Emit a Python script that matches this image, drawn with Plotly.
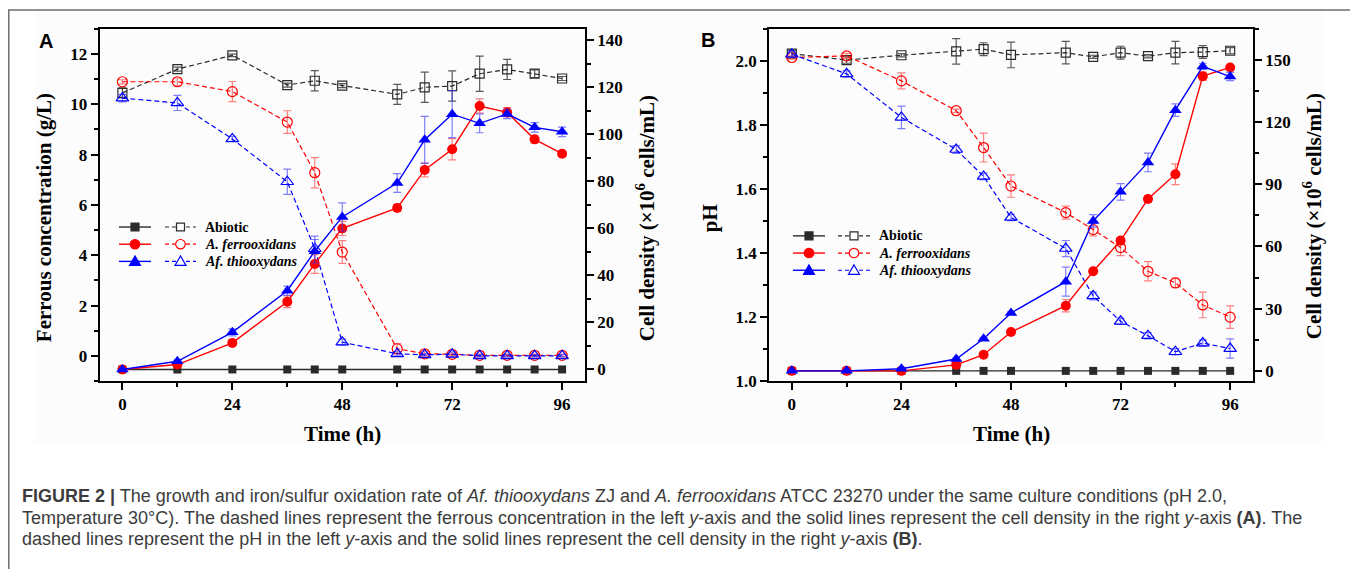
import plotly.graph_objects as go

# ---------------- data ----------------
time_h = [0, 12, 24, 36, 42, 48, 60, 66, 72, 78, 84, 90, 96]

# Panel A: ferrous concentration (g/L, left axis)
fe_abiotic = [10.45, 11.39, 11.94, 10.76, 10.93, 10.74, 10.39, 10.67, 10.72, 11.21, 11.38, 11.21, 11.02]
fe_abiotic_err = [0.2, 0.08, 0.05, 0.08, 0.4, 0.08, 0.4, 0.6, 0.6, 0.7, 0.4, 0.15, 0.08]
fe_aferro = [10.89, 10.89, 10.50, 9.29, 7.28, 4.13, 0.29, 0.09, 0.07, 0.03, 0.03, 0.03, 0.03]
fe_aferro_err = [0.08, 0.15, 0.4, 0.45, 0.6, 0.45, 0.2, 0.08, 0.05, 0.05, 0.05, 0.05, 0.05]
fe_afthio = [10.24, 10.05, 8.62, 6.92, 4.26, 0.55, 0.09, 0.05, 0.07, 0.01, 0.01, 0.01, 0.01]
fe_afthio_err = [0.15, 0.3, 0.1, 0.5, 0.5, 0.12, 0.08, 0.05, 0.1, 0.05, 0.05, 0.05, 0.05]

# Panel A: cell density (x10^6 cells/mL, right axis)
cellA_abiotic = [0, 0, 0, 0, 0, 0, 0, 0, 0, 0, 0, 0, 0]
cellA_aferro = [0, 2.1, 11.3, 28.8, 44.9, 60.0, 68.7, 84.9, 93.7, 112.1, 109.4, 97.9, 91.8]
cellA_aferro_err = [0, 0.5, 1.0, 2.5, 4, 3, 1.5, 3, 4.5, 3, 2, 1.5, 1]
cellA_afthio = [0, 3.5, 15.8, 33.5, 50.3, 64.9, 79.3, 97.7, 108.6, 104.7, 108.7, 103.0, 101.1]
cellA_afthio_err = [0, 0.5, 1.5, 2, 5, 6, 4, 10, 10, 4, 2, 2, 2]

# Panel B: pH (left axis)
ph_abiotic = [2.022, 2.002, 2.017, 2.029, 2.036, 2.018, 2.025, 2.012, 2.025, 2.014, 2.025, 2.027, 2.031]
ph_abiotic_err = [0.01, 0.01, 0.005, 0.04, 0.02, 0.04, 0.035, 0.005, 0.02, 0.005, 0.035, 0.02, 0.01]
ph_aferro = [2.010, 2.015, 1.937, 1.844, 1.729, 1.609, 1.526, 1.473, 1.417, 1.343, 1.307, 1.238, 1.200]
ph_aferro_err = [0.005, 0.008, 0.025, 0.005, 0.045, 0.035, 0.02, 0.02, 0.025, 0.03, 0.015, 0.04, 0.035]
ph_afthio = [2.020, 1.959, 1.823, 1.723, 1.639, 1.511, 1.414, 1.266, 1.187, 1.142, 1.092, 1.119, 1.102]
ph_afthio_err = [0.01, 0.01, 0.035, 0.012, 0.01, 0.01, 0.025, 0.012, 0.01, 0.01, 0.01, 0.01, 0.03]

# Panel B: cell density (right axis)
cellB_abiotic = [0, 0, 0, 0, 0, 0, 0, 0, 0, 0, 0, 0, 0]
cellB_aferro = [0, 0, 0, 2.9, 7.8, 18.7, 31.4, 48.0, 62.8, 82.9, 94.8, 142.1, 146.3]
cellB_aferro_err = [0, 0, 0, 0.5, 0.5, 0.5, 3, 1, 1.5, 1.5, 5, 2, 0.5]
cellB_afthio = [0, 0, 1.0, 5.7, 15.5, 27.9, 43.0, 72.3, 86.3, 100.5, 125.7, 146.8, 141.9]
cellB_afthio_err = [0, 0, 0, 0.5, 0.5, 0.5, 7, 3, 4, 4.5, 3, 1.5, 2]

series_names = ["Abiotic", "<i>A. ferrooxidans</i>", "<i>Af. thiooxydans</i>"]
x_ticks = [0, 24, 48, 72, 96]

# ---------------- geometry (page has an 8px body margin) ----------------
OFF = 8
W, H = 1358 - OFF, 569 - OFF
def px(x):
    return (x - OFF) / W
def py(y):
    return 1 - (y - OFF) / H

SERIF = "Liberation Serif"
SANS = "Liberation Sans"
RED = "#ff0000"
BLUE = "#0000ff"
GREY = "#2a2a2a"
DASH = "5px,3px"

styles = [
    dict(color=GREY, err="rgba(60,60,60,0.85)", solid="square", open="square-open", s_size=8, o_size=9),
    dict(color=RED, err="rgba(255,60,60,0.65)", solid="circle", open="circle-open", s_size=10, o_size=10),
    dict(color=BLUE, err="rgba(60,60,255,0.65)", solid="triangle-up", open="triangle-up-open", s_size=11, o_size=11),
]

fig = go.Figure()

def add_panel(xa, yl, yr, left_vals, left_errs, right_vals, right_errs):
    for st, vals, errs in zip(styles, left_vals, left_errs):
        fig.add_trace(go.Scatter(
            x=time_h, y=vals, xaxis=xa, yaxis=yl, mode="lines+markers",
            line=dict(color=st["color"], width=1.2, dash=DASH),
            marker=dict(symbol=st["open"], size=st["o_size"], color=st["color"],
                        line=dict(width=1.2, color=st["color"])),
            error_y=dict(type="data", array=errs, color=st["err"], thickness=1.2, width=4),
            showlegend=False, cliponaxis=False))
    for st, vals, errs in zip(styles, right_vals, right_errs):
        ey = dict(type="data", array=errs, color=st["err"], thickness=1.2, width=4) if errs else None
        fig.add_trace(go.Scatter(
            x=time_h, y=vals, xaxis=xa, yaxis=yr, mode="lines+markers",
            line=dict(color=st["color"], width=1.4),
            marker=dict(symbol=st["solid"], size=st["s_size"], color=st["color"]),
            error_y=ey, showlegend=False, cliponaxis=False))

add_panel("x", "y", "y2",
          [fe_abiotic, fe_aferro, fe_afthio], [fe_abiotic_err, fe_aferro_err, fe_afthio_err],
          [cellA_abiotic, cellA_aferro, cellA_afthio], [None, cellA_aferro_err, cellA_afthio_err])
add_panel("x2", "y3", "y4",
          [ph_abiotic, ph_aferro, ph_afthio], [ph_abiotic_err, ph_aferro_err, ph_afthio_err],
          [cellB_abiotic, cellB_aferro, cellB_afthio], [None, cellB_aferro_err, cellB_afthio_err])

tickfont = dict(family=SERIF, size=17, color="black", weight="bold")
base = dict(showline=True, linecolor="black", linewidth=1.5, ticks="outside", ticklen=7,
            tickwidth=1.5, tickcolor="black", showgrid=False, zeroline=False, tickfont=tickfont)
def minor(d):
    return dict(dtick=d, ticks="outside", ticklen=4, tickwidth=1.5, tickcolor="black", showgrid=False)

ydom = [py(388), py(29)]
fig.update_layout(
    width=W, height=H, margin=dict(l=0, r=0, t=0, b=0),
    paper_bgcolor="white", plot_bgcolor="rgba(0,0,0,0)",
    xaxis=dict(base, domain=[px(99.5), px(585)], range=[-5, 101], anchor="y",
               tickvals=x_ticks, minor=minor(12), mirror=True),
    yaxis=dict(base, domain=ydom, range=[-1, 13], dtick=2, anchor="x", minor=minor(1)),
    yaxis2=dict(base, overlaying="y", side="right", anchor="x", range=[-5, 145],
                dtick=20, minor=minor(10)),
    xaxis2=dict(base, domain=[px(769), px(1253)], range=[-5, 101], anchor="y3",
                tickvals=x_ticks, minor=minor(12), mirror=True),
    yaxis3=dict(base, domain=ydom, range=[1.0, 2.1], dtick=0.2, tickformat=".1f",
                anchor="x2", minor=minor(0.1)),
    yaxis4=dict(base, overlaying="y3", side="right", anchor="x2", range=[-5, 165],
                dtick=30, minor=minor(15)),
)

annotations = []
shapes = []

# faint background of the chart image, and outer border of the figure panel
shapes.append(dict(type="rect", xref="paper", yref="paper", x0=px(35), x1=px(1323),
                   y0=py(452), y1=py(11), fillcolor="#fcfcfc", line=dict(width=0), layer="below"))
shapes.append(dict(type="rect", xref="paper", yref="paper", x0=px(8.8), x1=px(1354),
                   y0=-0.05, y1=py(10), line=dict(color="#6e6e6e", width=1.5), layer="below"))

title_font = dict(family=SERIF, size=21, color="black", weight="bold")
def ann(x, y, text, font, angle=0, xanchor="center", yanchor="middle"):
    annotations.append(dict(x=px(x), y=py(y), xref="paper", yref="paper", text=text,
                            showarrow=False, font=font, textangle=angle,
                            xanchor=xanchor, yanchor=yanchor))

ann(46, 42, "A", dict(family=SANS, size=20, color="black", weight="bold"))
ann(708, 41, "B", dict(family=SANS, size=20, color="black", weight="bold"))
ann(342, 442, "Time (h)", title_font)
ann(1011, 442, "Time (h)", title_font)
ann(44, 222, "Ferrous concentration (g/L)", title_font, -90)
ann(645, 222, "Cell density (×10<sup>6</sup> cells/mL)", title_font, -90)
ann(710, 222, "pH", title_font, -90)
ann(1312, 220, "Cell density (×10<sup>6</sup> cells/mL)", title_font, -90)

# legends (drawn keys: solid line + filled marker, dashed line + open marker)
leg_font = dict(family=SERIF, size=14, color="black", weight="bold")
def marker_shape(cx, cy, kind, color, filled):
    fill = color if filled else "white"
    if kind == "square":
        r = 4
        shapes.append(dict(type="rect", xref="paper", yref="paper", x0=px(cx - r), x1=px(cx + r),
                           y0=py(cy + r), y1=py(cy - r), fillcolor=fill,
                           line=dict(color=color, width=1.2)))
    elif kind == "circle":
        r = 4.8
        shapes.append(dict(type="circle", xref="paper", yref="paper", x0=px(cx - r), x1=px(cx + r),
                           y0=py(cy + r), y1=py(cy - r), fillcolor=fill,
                           line=dict(color=color, width=1.2)))
    else:
        r = 5.5
        path = "M {:.5f},{:.5f} L {:.5f},{:.5f} L {:.5f},{:.5f} Z".format(
            px(cx), py(cy - r), px(cx - r), py(cy + r * 0.75), px(cx + r), py(cy + r * 0.75))
        shapes.append(dict(type="path", xref="paper", yref="paper", path=path, fillcolor=fill,
                           line=dict(color=color, width=1.2)))

def legend(x_solid, x_dash, x_text, rows_y):
    kinds = ["square", "circle", "triangle"]
    for st, kind, name, yy in zip(styles, kinds, series_names, rows_y):
        shapes.append(dict(type="line", xref="paper", yref="paper", x0=px(x_solid[0]), x1=px(x_solid[1]),
                           y0=py(yy), y1=py(yy), line=dict(color=st["color"], width=1.4)))
        marker_shape((x_solid[0] + x_solid[1]) / 2, yy, kind, st["color"], True)
        shapes.append(dict(type="line", xref="paper", yref="paper", x0=px(x_dash[0]), x1=px(x_dash[1]),
                           y0=py(yy), y1=py(yy), line=dict(color=st["color"], width=1.2, dash="4px,3px")))
        marker_shape((x_dash[0] + x_dash[1]) / 2, yy, kind, st["color"], False)
        ann(x_text, yy, name, leg_font, xanchor="left")

legend((119, 151), (165, 196), 203, (231, 248.5, 266))
legend((793, 825), (838, 870), 877.5, (240, 257.5, 275))

# caption
cap_font = dict(family=SANS, size=18, color="#3c3c3c")
cap_lines = [
    "<b>FIGURE 2 |</b> The growth and iron/sulfur oxidation rate of <i>Af. thiooxydans</i> ZJ and "
    "<i>A. ferrooxidans</i> ATCC 23270 under the same culture conditions (pH 2.0,",
    "Temperature 30°C). The dashed lines represent the ferrous concentration in the left <i>y</i>-axis "
    "and the solid lines represent the cell density in the right <i>y</i>-axis <b>(A)</b>. The",
    "dashed lines represent the pH in the left <i>y</i>-axis and the solid lines represent the cell "
    "density in the right <i>y</i>-axis <b>(B)</b>.",
]
for line, yy in zip(cap_lines, (505, 527, 549)):
    ann(20, yy, line, cap_font, xanchor="left")

fig.update_layout(annotations=annotations, shapes=shapes)
fig.write_html("out.html")
